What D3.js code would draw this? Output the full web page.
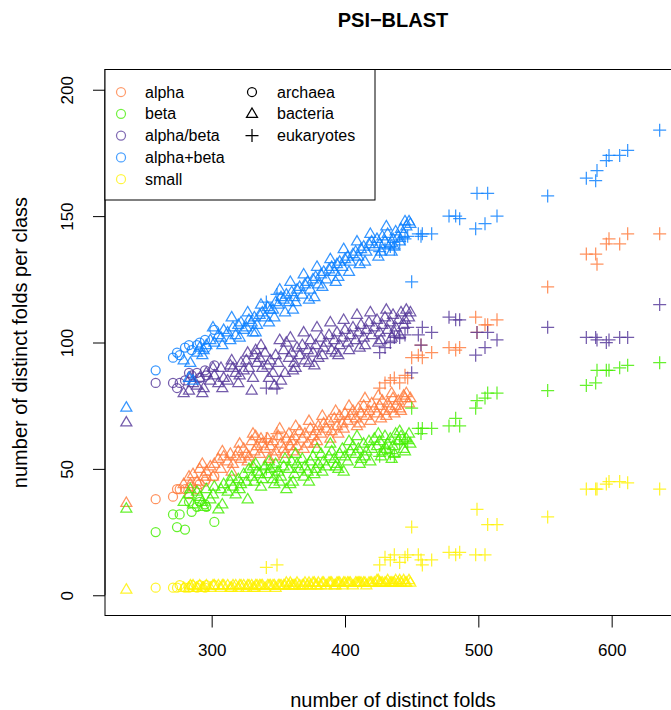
<!DOCTYPE html>
<html>
<head>
<meta charset="utf-8">
<script src="https://cdn.jsdelivr.net/npm/d3@7"></script>
<style>
  body { margin: 0; background: #fff; }
  svg { display: block; font-family: "Liberation Sans", Arial, sans-serif; }
</style>
</head>
<body>
<div id="chart"></div>
<script>
// fold classes, in legend order, and the three domains of life
const CLASSES = ['alpha', 'beta', 'alpha/beta', 'alpha+beta', 'small'];
const CLASS_COLORS = ['#FF7A3A', '#44EE00', '#56389A', '#0A7FFF', '#FFF200'];
const DOMAINS = ['archaea', 'bacteria', 'eukaryotes'];

const X_TICKS = [300, 400, 500, 600];
const Y_TICKS = [0, 50, 100, 150, 200];

// each row: [distinct folds, alpha, beta, alpha/beta, alpha+beta, small]
const archaea = [
  [258, 38, 25, 84, 89, 3],
  [271, 39, 32, 84, 94, 3],
  [274, 42, 27, 82, 96, 3],
  [276, 42, 32, 84, 95, 4],
  [280, 42, 26, 85, 98, 3],
  [283, 40, 37, 88, 99, 3],
  [285, 43, 33, 87, 97, 4],
  [289, 42, 35, 88, 99, 3],
  [291, 44, 37, 86, 100, 4],
  [295, 45, 36, 89, 101, 3],
  [296, 46, 35, 87, 98, 4],
  [302, 47, 29, 91, 105, 4]
];

const bacteria = [
  [236, 36.6, 34.3, 68.4, 74.3, 2.3],
  [279, 44, 37, 80, 93, 3], [283, 47, 40, 81, 86, 3], [286, 48, 36, 84, 85, 4],
  [289, 45, 41, 83, 96, 3], [291, 50, 39, 86, 98, 4], [294, 47, 35, 82, 97, 3],
  [296, 49, 42, 88, 99, 4], [299, 51, 38, 85, 101, 3], [302, 52, 43, 87, 100, 4],
  [305, 54, 34, 84, 103, 4], [307, 50, 42, 90, 102, 3], [309, 55, 44, 86, 105, 4],
  [312, 53, 41, 85, 104, 4], [314, 56, 45, 91, 101, 3], [316, 52, 43, 90, 106, 4],
  [318, 55, 40, 88, 103, 4], [320, 57, 46, 84, 107, 3], [322, 54, 44, 92, 108, 4],
  [324, 58, 48, 89, 105, 4], [326, 56, 45, 93, 106, 3], [328, 55, 50, 90, 109, 4],
  [330, 61, 47, 81, 108, 4], [332, 57, 45, 95, 110, 3], [333, 63, 52, 97, 104, 4],
  [334, 59, 49, 92, 107, 4], [336, 56, 48, 94, 111, 4], [338, 60, 46, 90, 112, 4],
  [340, 58, 51, 96, 110, 3], [342, 62, 48, 91, 114, 4], [344, 59, 50, 93, 113, 4],
  [346, 61, 46, 88, 113, 4], [347, 55, 44, 83, 110, 4], [348, 57, 52, 95, 116, 3],
  [350, 63, 49, 92, 115, 4], [352, 60, 47, 85, 118, 4], [354, 58, 51, 97, 117, 4],
  [356, 62, 42, 100, 119, 5], [358, 64, 50, 94, 116, 4], [360, 61, 53, 96, 120, 4],
  [361, 57, 45, 89, 113, 4], [362, 63, 48, 92, 118, 4], [364, 59, 52, 98, 121, 5],
  [366, 65, 50, 95, 122, 4], [368, 62, 54, 99, 119, 4], [370, 64, 51, 93, 123, 5],
  [372, 60, 49, 97, 124, 4], [374, 66, 53, 101, 121, 4], [376, 63, 55, 96, 125, 5],
  [377, 60, 48, 91, 118, 5], [378, 65, 50, 99, 126, 4], [380, 67, 52, 94, 123, 5],
  [382, 64, 56, 102, 127, 4], [384, 68, 53, 98, 128, 5], [386, 66, 51, 100, 125, 4],
  [388, 69, 55, 103, 129, 5], [390, 65, 57, 97, 130, 5], [392, 70, 54, 101, 128, 4],
  [394, 67, 52, 104, 131, 5], [395, 64, 50, 95, 126, 5], [396, 71, 56, 99, 132, 5],
  [398, 68, 58, 102, 130, 4], [400, 72, 55, 105, 133, 5], [402, 69, 53, 100, 134, 5],
  [404, 71, 57, 103, 132, 5], [406, 73, 59, 106, 135, 4], [408, 70, 56, 101, 136, 5],
  [410, 74, 58, 104, 134, 5], [411, 68, 52, 98, 131, 5], [412, 72, 54, 107, 137, 5],
  [414, 75, 60, 102, 138, 5], [416, 71, 57, 105, 136, 4], [418, 73, 61, 108, 139, 5],
  [420, 76, 58, 103, 140, 5], [422, 74, 62, 106, 138, 5], [424, 72, 59, 109, 141, 6],
  [426, 75, 61, 104, 139, 5], [427, 70, 55, 101, 136, 5], [428, 77, 57, 107, 142, 5],
  [430, 73, 63, 110, 140, 5], [432, 76, 60, 105, 143, 6], [434, 74, 62, 108, 139, 5],
  [436, 78, 59, 111, 141, 5], [437, 72, 56, 104, 138, 5], [438, 75, 64, 106, 144, 6],
  [440, 77, 61, 109, 142, 5], [442, 73, 63, 112, 145, 5], [444, 79, 58, 107, 143, 6],
  [446, 80, 62, 113, 146, 5], [448, 76, 64, 110, 148, 6], [449, 78, 60, 112, 147, 5],
  // more scattered strains
  [284, 44, 42, 86, 92, 4], [293, 52, 37, 80, 95, 3], [301, 47, 40, 90, 106, 4],
  [308, 57, 36, 82, 99, 4], [315, 49, 47, 93, 110, 3], [321, 60, 42, 87, 102, 4],
  [327, 53, 38, 96, 112, 4], [331, 64, 51, 86, 104, 3], [337, 62, 43, 99, 115, 4],
  [343, 54, 53, 86, 108, 4], [351, 66, 45, 101, 121, 4], [355, 56, 54, 88, 112, 4],
  [359, 59, 44, 102, 124, 5], [363, 67, 56, 90, 116, 4], [369, 58, 47, 104, 127, 4],
  [373, 69, 45, 92, 117, 5], [379, 61, 58, 106, 130, 4], [383, 71, 49, 95, 122, 5],
  [389, 62, 60, 108, 133, 5], [393, 73, 51, 96, 124, 4], [399, 66, 49, 109, 137, 5],
  [403, 75, 61, 97, 128, 5], [409, 67, 63, 111, 140, 5], [415, 78, 55, 99, 132, 5],
  [419, 69, 53, 112, 143, 5], [425, 79, 64, 100, 134, 6], [431, 71, 58, 113, 146, 5],
  [435, 80, 54, 102, 136, 5], [441, 74, 65, 103, 140, 6], [445, 78, 57, 109, 148, 5]
];

const eukaryotes = [
  [341, 62, 50, 82, 116, 11], [349, 64, 49, 82, 119, 12],
  [426, 82, 55, 96, 136, 12], [430, 84, 58, 98, 137, 15], [434, 85, 56, 100, 138, 14],
  [437, 86, 55, 102, 137, 16], [441, 84, 60, 102, 140, 13], [445, 87, 61, 103, 141, 15],
  [447, 86, 60, 106, 142, 16], [450, 94, 74, 88, 124, 27], [455, 95, 66, 103, 143, 16],
  [457, 99, 64, 99, 142, 14], [458, 94, 66, 106, 143, 12], [465, 96, 66, 104, 143, 14],
  [478, 98, 67, 110, 150, 17], [483, 97, 70, 109, 150, 16], [486, 98, 67, 109, 149, 17],
  [498, 110, 74, 95, 145, 16], [499, 104, 77, 104, 159, 34], [505, 107, 78, 98, 147, 16],
  [507, 107, 80, 104, 159, 28], [514, 109, 80, 101, 150, 28], [552, 122, 81, 106, 158, 31],
  [581, 135, 83, 102, 165, 42], [588, 135, 84, 102, 164, 42], [589, 131, 89, 101, 168, 42],
  [596, 139, 89, 100, 172, 44], [598, 141, 89, 101, 174, 45], [606, 139, 90, 102, 174, 45],
  [612, 143, 91, 102, 176, 44.5], [636, 143, 92, 115, 184, 42]
];

const W = 671, H = 710;
const box = { left: 105, top: 69.5, right: 681, bottom: 615.5 };

const svg = d3.select('#chart').append('svg')
  .attr('width', W).attr('height', H);

// R-style 4% padding around the data range
const x = d3.scaleLinear().domain([220, 652]).range([box.left, box.right]);
const y = d3.scaleLinear().domain([-8, 208]).range([box.bottom, box.top]);

svg.append('clipPath').attr('id', 'plotclip')
  .append('rect')
  .attr('x', box.left).attr('y', box.top)
  .attr('width', box.right - box.left).attr('height', box.bottom - box.top);

const plot = svg.append('g').attr('clip-path', 'url(#plotclip)');

// marker shapes for the domains
function drawMarker(g, shape, cx, cy, color) {
  if (shape === 'archaea') {
    g.append('circle').attr('cx', cx).attr('cy', cy).attr('r', 4.5)
      .attr('fill', 'none').attr('stroke', color).attr('stroke-width', 1.25);
  } else if (shape === 'bacteria') {
    const s = 5.8;
    g.append('path')
      .attr('d', `M${cx},${cy - s}L${cx + s * 0.95},${cy + s * 0.62}L${cx - s * 0.95},${cy + s * 0.62}Z`)
      .attr('fill', 'none').attr('stroke', color).attr('stroke-width', 1.25);
  } else {
    const s = 6.5;
    g.append('path')
      .attr('d', `M${cx - s},${cy}H${cx + s}M${cx},${cy - s}V${cy + s}`)
      .attr('fill', 'none').attr('stroke', color).attr('stroke-width', 1.25);
  }
}

const sets = [['archaea', archaea], ['bacteria', bacteria], ['eukaryotes', eukaryotes]];
CLASSES.forEach((cls, ci) => {
  sets.forEach(([dom, rows]) => {
    rows.forEach(r => {
      const g = plot.append('g').attr('opacity', 0.82);
      drawMarker(g, dom, x(r[0]), y(r[ci + 1]), CLASS_COLORS[ci]);
    });
  });
});

// plot box
svg.append('rect')
  .attr('x', box.left).attr('y', box.top)
  .attr('width', box.right - box.left).attr('height', box.bottom - box.top)
  .attr('fill', 'none').attr('stroke', '#000').attr('stroke-width', 1);

// axes
const xAxis = d3.axisBottom(x).tickValues(X_TICKS).tickSize(12).tickPadding(16).tickSizeOuter(0);
const gx = svg.append('g').attr('transform', `translate(0,${box.bottom})`).call(xAxis);
gx.select('.domain').attr('d', `M${x(300)},0H${x(600)}`);
gx.selectAll('text').attr('font-size', 17).attr('font-family', null).attr('fill', '#000');

const yAxis = d3.axisLeft(y).tickValues(Y_TICKS).tickSize(12).tickSizeOuter(0);
const gy = svg.append('g').attr('transform', `translate(${box.left},0)`).call(yAxis);
gy.select('.domain').attr('d', `M0,${y(0)}V${y(200)}`);
gy.selectAll('text')
  .attr('font-size', 17).attr('font-family', null).attr('fill', '#000')
  .attr('text-anchor', 'middle').attr('dy', null)
  .attr('x', 0).attr('y', 0)
  .attr('transform', 'translate(-36,0) rotate(-90)')
  .attr('dominant-baseline', 'middle');
svg.selectAll('.tick line').attr('stroke', '#000');

// titles
svg.append('text').attr('x', 393).attr('y', 27).attr('text-anchor', 'middle')
  .attr('font-size', 20).attr('font-weight', 'bold').text('PSI\u2212BLAST');
svg.append('text').attr('x', 393).attr('y', 707).attr('text-anchor', 'middle')
  .attr('font-size', 20).text('number of distinct folds');
svg.append('text').attr('transform', `translate(27,${(box.top + box.bottom) / 2}) rotate(-90)`)
  .attr('text-anchor', 'middle').attr('font-size', 20)
  .text('number of distinct folds per class');

// legend
const lg = svg.append('g');
lg.append('rect').attr('x', box.left).attr('y', box.top)
  .attr('width', 270).attr('height', 130.5)
  .attr('fill', '#fff').attr('stroke', '#000').attr('stroke-width', 1);
const rowH = 21.8, row0 = 92;
CLASSES.forEach((cls, i) => {
  const cy = row0 + i * rowH;
  const g = lg.append('g').attr('opacity', 0.75);
  drawMarker(g, 'archaea', 121, cy, CLASS_COLORS[i]);
  lg.append('text').attr('x', 145).attr('y', cy).attr('dy', '0.35em')
    .attr('font-size', 16).text(cls);
});
DOMAINS.forEach((dom, i) => {
  const cy = row0 + i * rowH;
  drawMarker(lg, dom, 252, cy, '#000');
  lg.append('text').attr('x', 277).attr('y', cy).attr('dy', '0.35em')
    .attr('font-size', 16).text(dom);
});
</script>
</body>
</html>
